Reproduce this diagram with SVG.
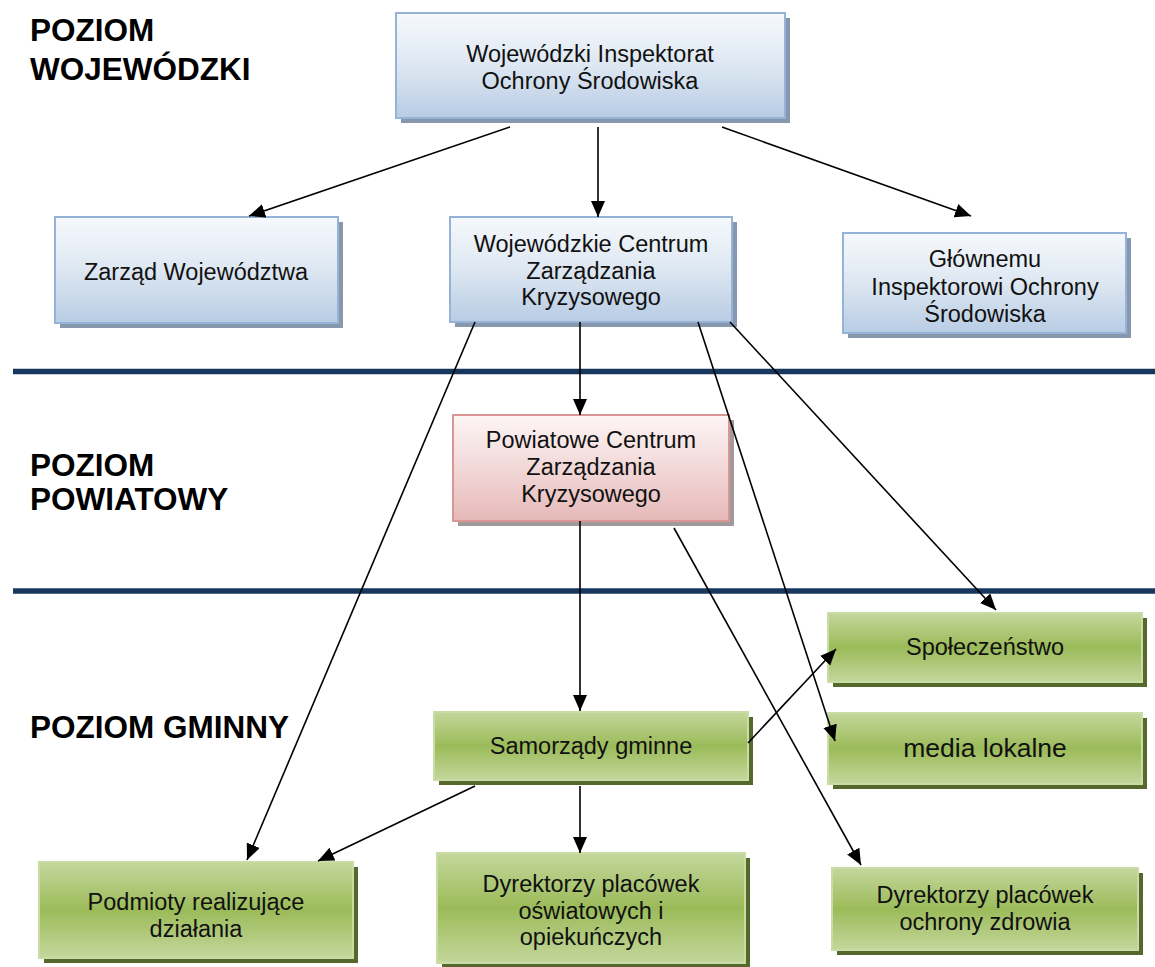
<svg xmlns="http://www.w3.org/2000/svg" width="1155" height="967" viewBox="0 0 1155 967">
<defs>
<linearGradient id="gBlue" x1="0" y1="0" x2="0" y2="1">
<stop offset="0" stop-color="#f6f9fc"/>
<stop offset="0.5" stop-color="#dde7f2"/>
<stop offset="1" stop-color="#b8cce4"/>
</linearGradient>
<linearGradient id="gPink" x1="0" y1="0" x2="0" y2="1">
<stop offset="0" stop-color="#fdf5f5"/>
<stop offset="0.5" stop-color="#f2d8d8"/>
<stop offset="1" stop-color="#e6b9b8"/>
</linearGradient>
<linearGradient id="gGreen" x1="0" y1="0" x2="0" y2="1">
<stop offset="0" stop-color="#c4d79c"/>
<stop offset="0.5" stop-color="#9bbb59"/>
<stop offset="1" stop-color="#c4d79c"/>
</linearGradient>
<marker id="arr" markerUnits="userSpaceOnUse" markerWidth="18" markerHeight="16" refX="16" refY="7" orient="auto">
<path d="M0,0 L16,7 L0,14 Z" fill="#000"/>
</marker>
</defs>
<style>
.blue{fill:url(#gBlue);stroke:#95b3d7;stroke-width:2}
.pink{fill:url(#gPink);stroke:#d99694;stroke-width:2}
.green{fill:url(#gGreen);stroke:#cadca6;stroke-width:2}
.shB{fill:#8797ad}
.shP{fill:#a09a9a}
.shG{fill:#56692d}
.t{font-family:"Liberation Sans",Arial,sans-serif;font-size:23.5px;fill:#111;text-anchor:middle}
.h{font-family:"Liberation Sans",Arial,sans-serif;font-size:31.5px;font-weight:bold;fill:#000}
.c{stroke:#000;stroke-width:1.6;fill:none;marker-end:url(#arr)}
.sep{stroke:#17375e;stroke-width:5.5}
</style>
<rect width="1155" height="967" fill="#fff"/>
<g id="separators">
<line class="sep" x1="13" y1="371.5" x2="1155" y2="371.5"/>
<line class="sep" x1="13" y1="591" x2="1155" y2="591"/>
</g>
<g id="headings">
<text class="h" x="30" y="41">POZIOM</text>
<text class="h" x="30" y="80">WOJEWÓDZKI</text>
<text class="h" x="30" y="476">POZIOM</text>
<text class="h" x="30" y="510">POWIATOWY</text>
<text class="h" x="30" y="738">POZIOM GMINNY</text>
</g>
<g id="wios">
<rect class="shB" x="401" y="18" width="389" height="105"/>
<rect class="blue" x="396" y="13" width="389" height="105"/>
<text class="t" x="590" y="62"><tspan x="590">Wojewódzki Inspektorat</tspan><tspan x="590" dy="26.7">Ochrony Środowiska</tspan></text>
</g>
<g id="zarzad">
<rect class="shB" x="60" y="222" width="283" height="106"/>
<rect class="blue" x="55" y="217" width="283" height="106"/>
<text class="t" x="196" y="280">Zarząd Województwa</text>
</g>
<g id="wczk">
<rect class="shB" x="455" y="222" width="282" height="105"/>
<rect class="blue" x="450" y="217" width="282" height="105"/>
<text class="t" x="591" y="252"><tspan x="591">Wojewódzkie Centrum</tspan><tspan x="591" dy="26.7">Zarządzania</tspan><tspan x="591" dy="26.7">Kryzysowego</tspan></text>
</g>
<g id="gios">
<rect class="shB" x="848" y="238" width="283" height="100"/>
<rect class="blue" x="843" y="233" width="283" height="100"/>
<text class="t" x="985" y="267"><tspan x="985">Głównemu</tspan><tspan x="985" dy="27.5">Inspektorowi Ochrony</tspan><tspan x="985" dy="27.5">Środowiska</tspan></text>
</g>
<g id="pczk">
<rect class="shP" x="458" y="420" width="276" height="106"/>
<rect class="pink" x="453" y="415" width="276" height="106"/>
<text class="t" x="591" y="448"><tspan x="591">Powiatowe Centrum</tspan><tspan x="591" dy="26.8">Zarządzania</tspan><tspan x="591" dy="26.8">Kryzysowego</tspan></text>
</g>
<g id="samorzady">
<rect class="shG" x="439" y="717" width="314" height="68"/>
<rect class="green" x="434" y="712" width="314" height="68"/>
<text class="t" x="591" y="754">Samorządy gminne</text>
</g>
<g id="spoleczenstwo">
<rect class="shG" x="833" y="618" width="314" height="69"/>
<rect class="green" x="828" y="613" width="314" height="69"/>
<text class="t" x="985" y="655">Społeczeństwo</text>
</g>
<g id="media">
<rect class="shG" x="833" y="718" width="314" height="71"/>
<rect class="green" x="828" y="713" width="314" height="71"/>
<text class="t" x="985" y="757" style="font-size:26.5px">media lokalne</text>
</g>
<g id="podmioty">
<rect class="shG" x="44" y="867" width="314" height="96"/>
<rect class="green" x="39" y="862" width="314" height="96"/>
<text class="t" x="196" y="910"><tspan x="196">Podmioty realizujące</tspan><tspan x="196" dy="26.7">działania</tspan></text>
</g>
<g id="dyr-oswiata">
<rect class="shG" x="442" y="858" width="308" height="110"/>
<rect class="green" x="437" y="853" width="308" height="110"/>
<text class="t" x="591" y="892"><tspan x="591">Dyrektorzy placówek</tspan><tspan x="591" dy="26.7">oświatowych i</tspan><tspan x="591" dy="26.7">opiekuńczych</tspan></text>
</g>
<g id="dyr-zdrowie">
<rect class="shG" x="837" y="873" width="306" height="82"/>
<rect class="green" x="832" y="868" width="306" height="82"/>
<text class="t" x="985" y="903"><tspan x="985">Dyrektorzy placówek</tspan><tspan x="985" dy="26.7">ochrony zdrowia</tspan></text>
</g>
<g id="connectors">
<line class="c" x1="510" y1="127" x2="249" y2="216"/>
<line class="c" x1="598" y1="127" x2="598" y2="217"/>
<line class="c" x1="722" y1="127" x2="971" y2="216"/>
<line class="c" x1="580" y1="322" x2="580" y2="415"/>
<line class="c" x1="475" y1="322" x2="247" y2="860"/>
<line class="c" x1="698" y1="322" x2="835" y2="741"/>
<line class="c" x1="730" y1="322" x2="996" y2="610"/>
<line class="c" x1="580" y1="521" x2="580" y2="711"/>
<line class="c" x1="674" y1="528" x2="861" y2="865"/>
<line class="c" x1="748" y1="743" x2="836" y2="649"/>
<line class="c" x1="475" y1="786" x2="318" y2="861"/>
<line class="c" x1="580" y1="786" x2="580" y2="853"/>
</g>
</svg>
